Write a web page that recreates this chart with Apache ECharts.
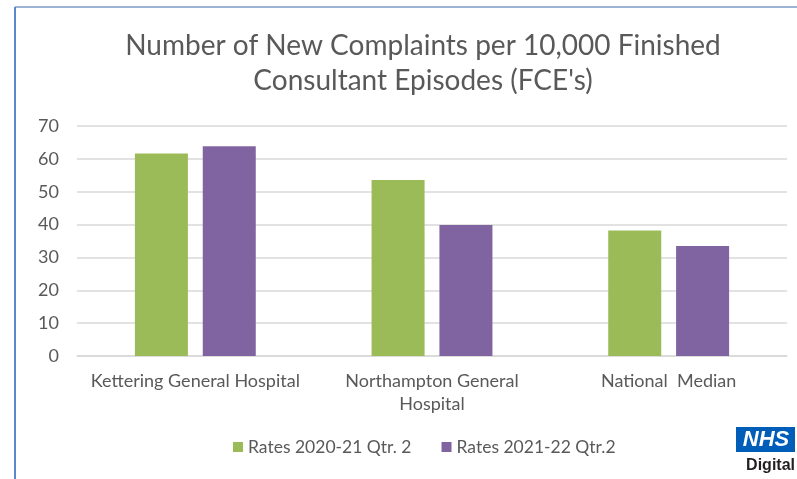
<!DOCTYPE html>
<html>
<head>
<meta charset="utf-8">
<script src="https://cdn.jsdelivr.net/npm/echarts@6/dist/echarts.min.js"></script>
<style>
  html, body { margin: 0; padding: 0; background: #fff; }
  #chart { width: 797px; height: 479px; }
</style>
</head>
<body>
<div id="chart"></div>
<script>
const categories = ['Kettering General Hospital', 'Northampton General\nHospital', 'National  Median']
const seriesNames = ['Rates 2020-21 Qtr. 2', 'Rates 2021-22 Qtr.2']
const rates2020 = [61.6, 53.6, 38.2]
const rates2021 = [63.8, 39.9, 33.5]
const yTicks = [0, 10, 20, 30, 40, 50, 60, 70]

const chart = echarts.init(document.getElementById('chart'))
const font = 'Lato, "Open Sans", sans-serif'
const option = {
  backgroundColor: '#fff',
  textStyle: { fontFamily: font },
  title: {
    text: 'Number of New Complaints per 10,000 Finished\nConsultant Episodes (FCE\'s)',
    left: 418,
    top: 23,
    textAlign: 'center',
    textStyle: {
      color: '#595959',
      fontSize: 28,
      fontWeight: 'normal',
      lineHeight: 35,
      fontFamily: font
    }
  },
  legend: {
    data: seriesNames,
    bottom: 18,
    left: 228,
    itemWidth: 10,
    itemHeight: 10,
    itemGap: 30,
    icon: 'rect',
    textStyle: { color: '#595959', fontSize: 17.5, fontFamily: font }
  },
  grid: {
    left: 77,
    right: 10,
    top: 126,
    bottom: 123,
    containLabel: false
  },
  xAxis: {
    type: 'category',
    data: categories,
    axisLine: { lineStyle: { color: '#d9d9d9', width: 1.5 } },
    axisTick: { show: false },
    axisLabel: { color: '#595959', fontSize: 18, margin: 14, lineHeight: 23, interval: 0 }
  },
  yAxis: {
    type: 'value',
    min: yTicks[0],
    max: yTicks[yTicks.length - 1],
    interval: 10,
    axisLine: { show: false },
    axisTick: { show: false },
    axisLabel: { color: '#595959', fontSize: 18, margin: 18 },
    splitLine: { lineStyle: { color: '#d9d9d9', width: 1.5 } }
  },
  series: [{
    name: seriesNames[0],
    type: 'bar',
    data: rates2020,
    barWidth: '22.4%',
    barGap: '28%',
    itemStyle: { color: '#9bbb59' }
  }, {
    name: seriesNames[1],
    type: 'bar',
    data: rates2021,
    barWidth: '22.4%',
    itemStyle: { color: '#8064a2' }
  }],
  graphic: [
    // frame of the slide
    { type: 'line', shape: { x1: 15, y1: 7, x2: 797, y2: 7 }, style: { stroke: '#9db3d6', lineWidth: 2 } },
    { type: 'line', shape: { x1: 15, y1: 7, x2: 15, y2: 479 }, style: { stroke: '#5b86d0', lineWidth: 2 } },
    // NHS Digital logo
    { type: 'rect', shape: { x: 736, y: 427, width: 59, height: 25 }, style: { fill: '#005eb8' } },
    { type: 'text', x: 766, y: 440, style: { text: 'NHS', fill: '#fff', font: 'italic bold 22px Arial, "Liberation Sans", sans-serif', align: 'center', verticalAlign: 'middle' } },
    { type: 'text', x: 795, y: 466, style: { text: 'Digital', fill: '#231f20', font: 'bold 16px Arial, "Liberation Sans", sans-serif', align: 'right', verticalAlign: 'middle' } }
  ]
}
chart.setOption(option)
</script>
</body>
</html>
